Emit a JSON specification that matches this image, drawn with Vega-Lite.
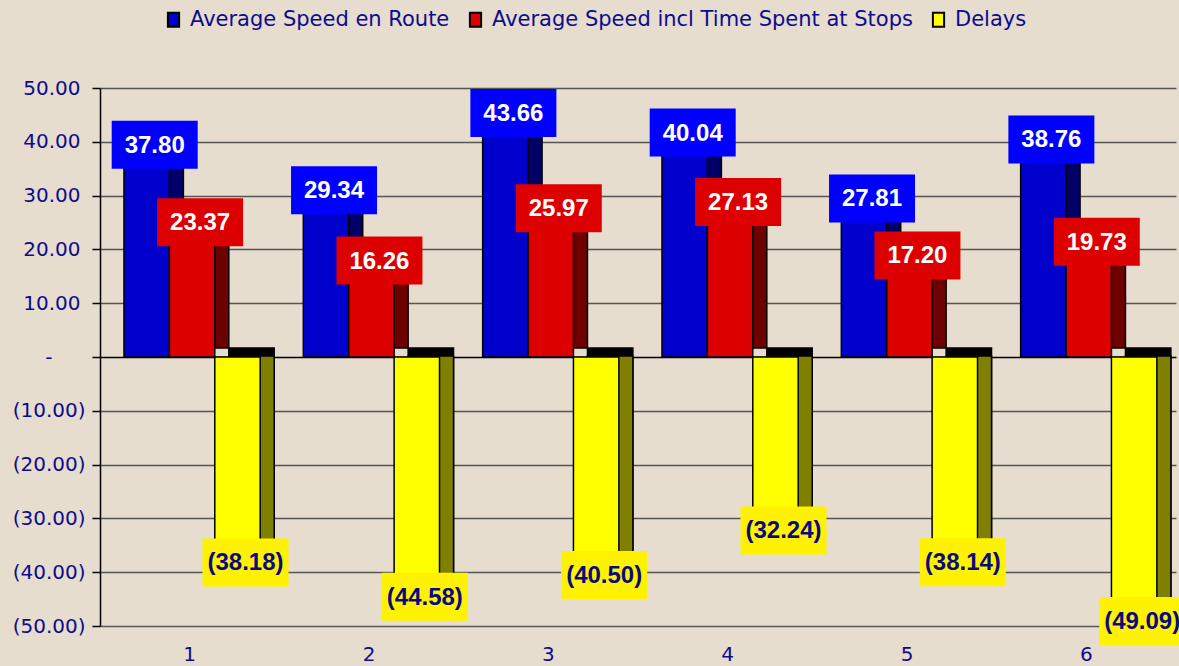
{
  "$schema": "https://vega.github.io/schema/vega-lite/v6.json",
  "width": 1076,
  "height": 538,
  "autosize": "none",
  "padding": {"left": 100, "top": 88, "right": 3, "bottom": 40},
  "background": "#E6DDCF",
  "config": {
    "view": {"stroke": null},
    "font": "DejaVu Sans",
    "axisY": {
      "values": [-50, -40, -30, -20, -10, 0, 10, 20, 30, 40, 50],
      "grid": true,
      "gridColor": {"condition": {"test": "datum.value === 0", "value": "#000000"}, "value": "#555555"},
      "gridWidth": 1.5,
      "domainColor": "#000000",
      "domainWidth": 1.5,
      "tickColor": "#000000",
      "tickWidth": 1.5,
      "tickSize": 8,
      "labelFont": "DejaVu Sans",
      "labelFontSize": 20,
      "labelColor": "#0C0C8C",
      "labelPadding": {"condition": [{"test": "datum.value === 0", "value": 40}, {"test": "datum.value > 0", "value": 12}], "value": 7},
      "labelExpr": "datum.value === 0 ? '-' : (datum.value > 0 ? format(datum.value, '.2f') : format(datum.value, '(.2f'))"
    },
    "axisX": {
      "domain": false,
      "ticks": false,
      "grid": false,
      "labelAngle": 0,
      "labelPadding": 18,
      "labelFont": "DejaVu Sans",
      "labelFontSize": 20,
      "labelColor": "#0C0C8C"
    }
  },
  "data": {
    "values": [
      {"cat": "1", "series": "Average Speed en Route", "value": 37.80},
      {"cat": "2", "series": "Average Speed en Route", "value": 29.34},
      {"cat": "3", "series": "Average Speed en Route", "value": 43.66},
      {"cat": "4", "series": "Average Speed en Route", "value": 40.04},
      {"cat": "5", "series": "Average Speed en Route", "value": 27.81},
      {"cat": "6", "series": "Average Speed en Route", "value": 38.76},
      {"cat": "1", "series": "Average Speed incl Time Spent at Stops", "value": 23.37},
      {"cat": "2", "series": "Average Speed incl Time Spent at Stops", "value": 16.26},
      {"cat": "3", "series": "Average Speed incl Time Spent at Stops", "value": 25.97},
      {"cat": "4", "series": "Average Speed incl Time Spent at Stops", "value": 27.13},
      {"cat": "5", "series": "Average Speed incl Time Spent at Stops", "value": 17.20},
      {"cat": "6", "series": "Average Speed incl Time Spent at Stops", "value": 19.73},
      {"cat": "1", "series": "Delays", "value": -38.18},
      {"cat": "2", "series": "Delays", "value": -44.58},
      {"cat": "3", "series": "Delays", "value": -40.50},
      {"cat": "4", "series": "Delays", "value": -32.24},
      {"cat": "5", "series": "Delays", "value": -38.14},
      {"cat": "6", "series": "Delays", "value": -49.09}
    ]
  },
  "encoding": {
    "x": {"field": "cat", "type": "nominal", "title": null, "scale": {"paddingInner": 0, "paddingOuter": 0}},
    "y": {"field": "value", "type": "quantitative", "title": null, "scale": {"domain": [-50, 50], "nice": false, "zero": true}}
  },
  "layer": [
    {
      "mark": {"type": "bar", "yOffset": -9, "stroke": "#000000", "strokeWidth": 1.5},
      "encoding": {
        "xOffset": {"field": "series", "type": "nominal", "scale": {"type": "band", "domain": ["Average Speed en Route", "Average Speed incl Time Spent at Stops", "Delays"], "paddingInner": 0, "paddingOuter": 0.475, "align": 0.881}},
        "fill": {"field": "series", "type": "nominal", "legend": null,
          "scale": {"domain": ["Average Speed en Route", "Average Speed incl Time Spent at Stops", "Delays"], "range": ["#000066", "#6E0000", "#000000"]}}
      }
    },
    {
      "transform": [{"filter": "datum.series === 'Delays'"}],
      "mark": {"type": "bar", "stroke": "#000000", "strokeWidth": 1.5, "fill": "#808000", "yOffset": -1},
      "encoding": {
        "xOffset": {"field": "series", "type": "nominal", "scale": {"type": "band", "domain": ["Average Speed en Route", "Average Speed incl Time Spent at Stops", "Delays"], "paddingInner": 0, "paddingOuter": 0.475, "align": 0.881}}
      }
    },
    {
      "mark": {"type": "bar", "stroke": "#000000", "strokeWidth": 1.5, "opacity": 1},
      "encoding": {
        "xOffset": {"field": "series", "type": "nominal", "scale": {"type": "band", "domain": ["Average Speed en Route", "Average Speed incl Time Spent at Stops", "Delays"], "paddingInner": 0, "paddingOuter": 0.475, "align": 0.556}},
        "color": {"field": "series", "type": "nominal",
          "scale": {"domain": ["Average Speed en Route", "Average Speed incl Time Spent at Stops", "Delays"], "range": ["#0000CC", "#DD0000", "#FFFF00"]},
          "legend": {
            "orient": "none",
            "direction": "horizontal",
            "legendX": 63,
            "legendY": -79,
            "title": null,
            "symbolType": "M-0.8,-1H0.8V1H-0.8Z",
            "symbolSize": 196,
            "symbolStrokeColor": "#000000",
            "symbolStrokeWidth": 2,
            "symbolOpacity": 1,
            "labelFont": "DejaVu Sans",
            "labelFontSize": 21,
            "labelColor": "#0C0C8C",
            "labelLimit": 600,
            "labelOffset": 6,
            "columnPadding": 15
          }
        }
      }
    },
    {
      "mark": {"type": "point", "shape": "M-1,-0.558H1V0.558H-1Z", "size": 7396, "filled": true, "opacity": 1, "strokeWidth": 0, "yOffset": {"expr": "datum.value > 0 ? -9 : 0"}},
      "encoding": {
        "xOffset": {"field": "series", "type": "nominal", "scale": {"type": "band", "domain": ["Average Speed en Route", "Average Speed incl Time Spent at Stops", "Delays"], "paddingInner": 0, "paddingOuter": 0.475, "align": 0.742}},
        "color": {"field": "series", "type": "nominal", "legend": null,
          "scale": {"domain": ["Average Speed en Route", "Average Speed incl Time Spent at Stops", "Delays"], "range": ["#0000FF", "#DD0000", "#FFF200"]}}
      }
    },
    {
      "mark": {"type": "text", "font": "Liberation Sans", "fontSize": 24, "fontWeight": "bold", "align": "center", "baseline": "middle", "yOffset": {"expr": "datum.value > 0 ? -8 : 1"}},
      "encoding": {
        "xOffset": {"field": "series", "type": "nominal", "scale": {"type": "band", "domain": ["Average Speed en Route", "Average Speed incl Time Spent at Stops", "Delays"], "paddingInner": 0, "paddingOuter": 0.475, "align": 0.742}},
        "text": {"field": "value", "type": "quantitative", "format": "(.2f"},
        "color": {"field": "series", "type": "nominal", "legend": null,
          "scale": {"domain": ["Average Speed en Route", "Average Speed incl Time Spent at Stops", "Delays"], "range": ["#FFFFFF", "#FFFFFF", "#0A0A80"]}}
      }
    }
  ],
  "resolve": {"scale": {"color": "independent", "fill": "independent", "xOffset": "independent"}}
}
